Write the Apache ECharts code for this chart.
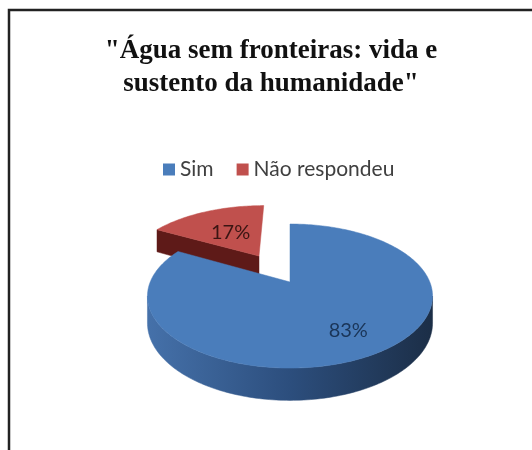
<!DOCTYPE html>
<html>
<head>
<meta charset="utf-8">
<script src="https://cdn.jsdelivr.net/npm/echarts@6/dist/echarts.min.js"></script>
<style>
html,body{margin:0;padding:0;background:#fff;}
#chart{width:532px;height:450px;}
</style>
</head>
<body>
<div id="chart"></div>
<script>
const titleText = '"Água sem fronteiras: vida e\nsustento da humanidade"';
const categories = ['Sim', 'Não respondeu'];
const values = [83, 17];
const explode = [0, 0.47];

const topColors = ['#4a7dbb', '#c0504d'];
const sideColors = [['#4672ab', '#2c4e7d', '#1b2d45'], ['#7a2523', '#5e1a18', '#4a1211']];
const labelColors = ['#1a3558', '#3a1513'];

// perspective pie geometry
const CX = 290, CY = 282, RX = 139.8, RY = 69.3, DEPTH = 26, PERSP = 0.195;
const total = values.reduce((a, b) => a + b, 0);

function proj(X, Yd, h) {
  const s = 1 / (1 + PERSP * Yd);
  return [CX + RX * X * s, CY + (-RY * Yd + (h || 0)) * s];
}
function rim(ox, oy, th, h) {
  return proj(ox + Math.sin(th), oy + Math.cos(th), h);
}
function arc(ox, oy, a0, a1, h) {
  const n = Math.max(2, Math.ceil(Math.abs(a1 - a0) / 0.02));
  const out = [];
  for (let i = 0; i <= n; i++) out.push(rim(ox, oy, a0 + (a1 - a0) * i / n, h));
  return out;
}

function makeRender(k) {
  return function (params, api) {
    let before = 0;
    for (let i = 0; i < k; i++) before += values[i];
    const start = before / total * Math.PI * 2;
    const end = (before + values[k]) / total * Math.PI * 2;
    const mid = (start + end) / 2;
    const ox = Math.sin(mid) * explode[k];
    const oy = Math.cos(mid) * explode[k];
    const grad = new echarts.graphic.LinearGradient(CX - RX * 1.05, 0, CX + RX * 1.05, 0, [
      { offset: 0, color: sideColors[k][0] },
      { offset: 0.5, color: sideColors[k][1] },
      { offset: 1, color: sideColors[k][2] }
    ], true);
    const children = [];
    const c0 = proj(ox, oy, 0), c1 = proj(ox, oy, DEPTH);
    // cut faces
    [[start, -1], [end, 1]].forEach(function (e) {
      const a = e[0];
      const vis = e[1] < 0 ? Math.sin(a) < -1e-6 : Math.sin(a) > 1e-6;
      if (!vis) return;
      children.push({
        type: 'polygon',
        shape: { points: [c0, rim(ox, oy, a, 0), rim(ox, oy, a, DEPTH), c1] },
        style: { fill: sideColors[k][1], stroke: sideColors[k][1], lineWidth: 0.5 }
      });
    });
    // outer wall (front part between silhouette angles)
    const sil = Math.acos(-PERSP);
    const w0 = Math.max(start, sil), w1 = Math.min(end, Math.PI * 2 - sil);
    if (w1 > w0) {
      const topArc = arc(ox, oy, w0, w1, 0);
      const botArc = arc(ox, oy, w1, w0, DEPTH);
      children.push({
        type: 'polygon',
        shape: { points: topArc.concat(botArc) },
        style: { fill: grad, stroke: grad, lineWidth: 0.5 }
      });
    }
    // top face
    children.push({
      type: 'polygon',
      shape: { points: [c0].concat(arc(ox, oy, start, end, 0)) },
      style: { fill: topColors[k], stroke: topColors[k], lineWidth: 0.5 }
    });
    // label
    const pct = Math.round(values[k] / total * 100) + '%';
    const f = k === 0 ? 0.72 : 0.5;
    const lp = proj(ox + Math.sin(mid) * f, oy + Math.cos(mid) * f, 0);
    children.push({
      type: 'text',
      x: lp[0], y: lp[1],
      style: {
        text: pct, fill: labelColors[k],
        font: '20px Lato, "Open Sans", sans-serif',
        align: 'center', verticalAlign: 'middle'
      }
    });
    return { type: 'group', children: children };
  };
}

const series = [];
// draw the exploded (back) slice first
for (let k = categories.length - 1; k >= 0; k--) {
  series.push({
    type: 'custom',
    name: categories[k],
    coordinateSystem: 'none',
    color: topColors[k],
    itemStyle: { color: topColors[k] },
    data: [values[k]],
    renderItem: makeRender(k),
    silent: true
  });
}

const chart = echarts.init(document.getElementById('chart'), null, { renderer: 'canvas' });
chart.setOption({
  animation: false,
  backgroundColor: '#ffffff',
  title: {
    text: titleText,
    left: 266, top: 30, textAlign: 'center',
    textStyle: {
      fontFamily: '"Liberation Serif", "Times New Roman", serif',
      fontWeight: 'bold', fontSize: 27, lineHeight: 33, color: '#111'
    }
  },
  legend: {
    data: categories,
    top: 154, left: 158,
    icon: 'rect', itemWidth: 12, itemHeight: 12, itemGap: 23,
    textStyle: { fontFamily: 'Lato, "Open Sans", sans-serif', fontSize: 21, color: '#404040' }
  },
  graphic: [{
    type: 'polyline',
    shape: { points: [[9, 450], [9, 10], [532, 10]] },
    style: { stroke: '#222', lineWidth: 2.5, fill: null }
  }],
  series: series
});
</script>
</body>
</html>
